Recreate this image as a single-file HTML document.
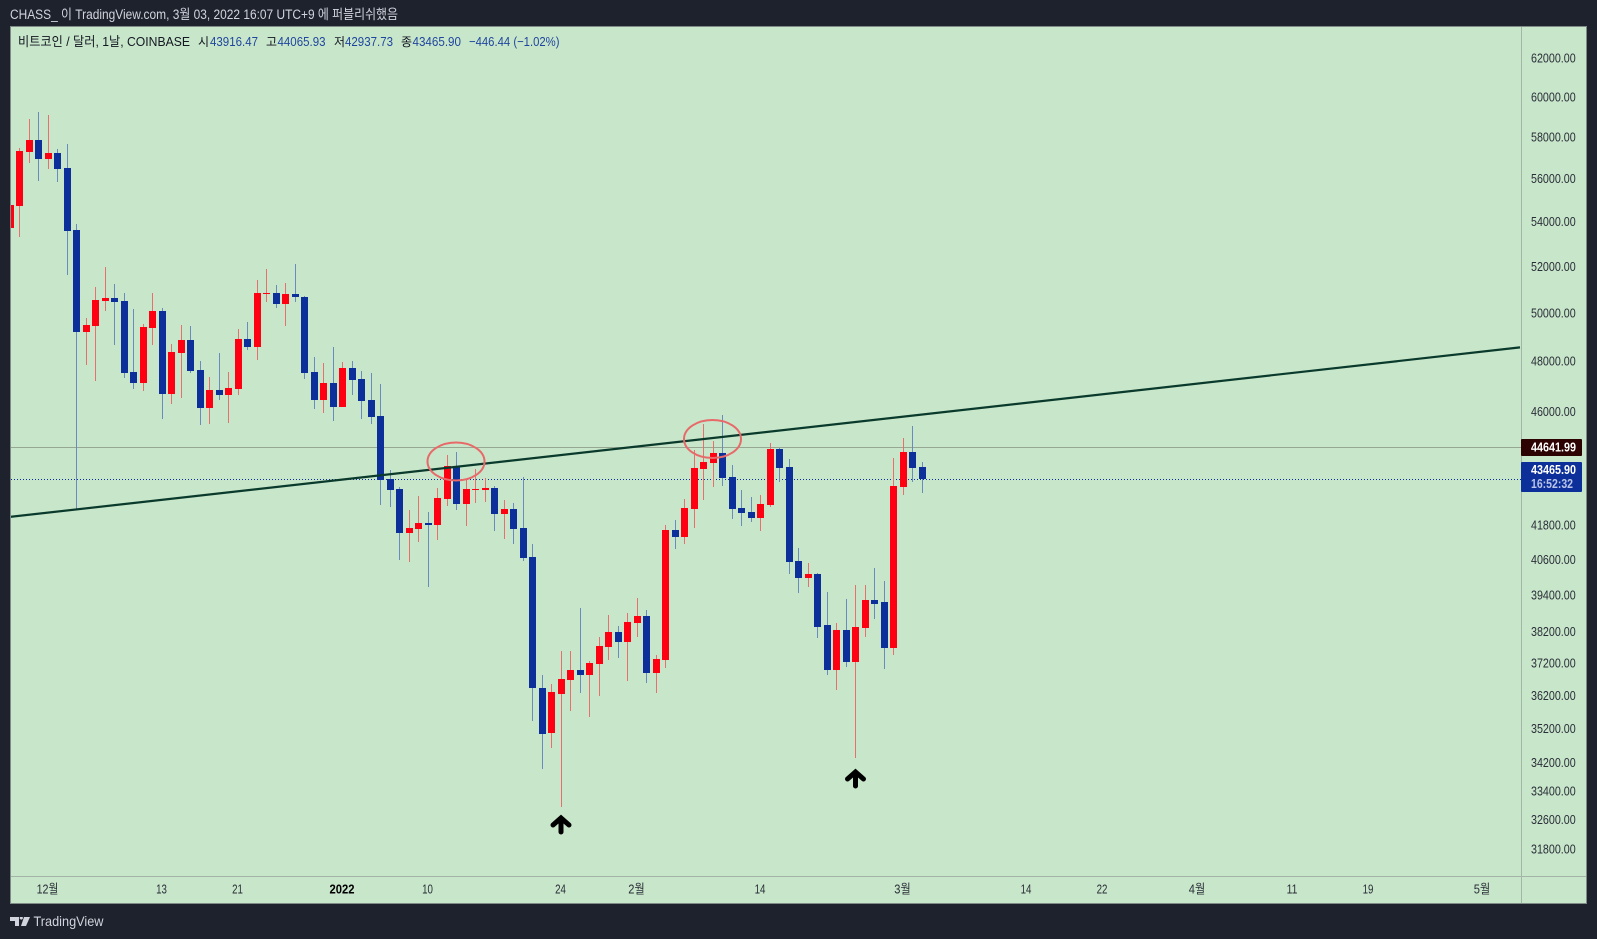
<!DOCTYPE html>
<html lang="ko">
<head>
<meta charset="utf-8">
<title>BTC/USD TradingView chart</title>
<style>
html,body{margin:0;padding:0;background:#1e222d;width:1597px;height:939px;overflow:hidden}
svg{display:block;font-family:"Liberation Sans","Noto Sans CJK KR",sans-serif}
</style>
</head>
<body>
<svg id="chart" xmlns="http://www.w3.org/2000/svg" width="1597" height="939" viewBox="0 0 1597 939">
  <defs>
    <clipPath id="plot-clip"><rect x="11" y="27" width="1510" height="849"/></clipPath>
  </defs>
  <rect x="0" y="0" width="1597" height="939" fill="#1e222d"/>
  <text x="10" y="19" font-size="13.5" fill="#d1d4dc" textLength="388" lengthAdjust="spacingAndGlyphs">CHASS_ 이 TradingView.com, 3월 03, 2022 16:07 UTC+9 에 퍼블리쉬했음</text>

  <rect x="10.5" y="26.5" width="1576" height="877" fill="#c8e6c9" stroke="#7f8b87" stroke-width="1"/>
  <line x1="1521.5" y1="27" x2="1521.5" y2="903" stroke="#a3b5a6" stroke-width="1"/>
  <line x1="11" y1="876.5" x2="1586" y2="876.5" stroke="#a3b5a6" stroke-width="1"/>

  <g id="price-axis"></g>
  <g id="time-axis"></g>

  <g clip-path="url(#plot-clip)">
    <line id="prev-line" stroke="#97a892" stroke-width="1"/>
    <line id="last-line" stroke="#0d2f9a" stroke-width="1" stroke-dasharray="1 2"/>
    <g id="candles" shape-rendering="crispEdges"></g>
    <line id="trend-line" stroke="#0a3a2c" stroke-width="2.2"/>
    <g id="annotations"></g>
  </g>

  <g font-size="13">
    <text x="18" y="46" fill="#131722" textLength="172" lengthAdjust="spacingAndGlyphs">비트코인 / 달러, 1날, COINBASE</text>
    <text x="198" y="46" fill="#131722" font-size="12">시</text>
    <text x="210" y="46" fill="#1f459f" textLength="48" lengthAdjust="spacingAndGlyphs">43916.47</text>
    <text x="266" y="46" fill="#131722" font-size="12">고</text>
    <text x="277.5" y="46" fill="#1f459f" textLength="48" lengthAdjust="spacingAndGlyphs">44065.93</text>
    <text x="334" y="46" fill="#131722" font-size="12">저</text>
    <text x="345" y="46" fill="#1f459f" textLength="48" lengthAdjust="spacingAndGlyphs">42937.73</text>
    <text x="401" y="46" fill="#131722" font-size="12">종</text>
    <text x="412.5" y="46" fill="#1f459f" textLength="48.5" lengthAdjust="spacingAndGlyphs">43465.90</text>
    <text x="469" y="46" fill="#1f459f" textLength="90.5" lengthAdjust="spacingAndGlyphs">−446.44 (−1.02%)</text>
  </g>

  <g>
    <rect id="prev-box" x="1521" width="61" height="17" rx="1" fill="#2c0202"/>
    <text id="prev-text" x="1531" font-size="12.5" font-weight="bold" fill="#ffffff" textLength="45" lengthAdjust="spacingAndGlyphs"></text>
    <rect id="last-box" x="1521" width="61" height="30" rx="1" fill="#0d2f9a"/>
    <text id="last-text" x="1531" font-size="12.5" font-weight="bold" fill="#ffffff" textLength="45" lengthAdjust="spacingAndGlyphs"></text>
    <text id="count-text" x="1531" font-size="12.5" font-weight="bold" fill="#b9c4e6" textLength="42" lengthAdjust="spacingAndGlyphs">16:52:32</text>
  </g>

  <g fill="#d1d4dc">
    <path d="M10 917h9v9h-4v-5h-5zM20 917h2.6a1.6 1.6 0 1 1 -2.6 0zM24 917h6l-4 9h-5z"/>
    <text x="33.5" y="926" font-size="14" textLength="70" lengthAdjust="spacingAndGlyphs">TradingView</text>
  </g>

<script>
const opens = [
53710,54720,57270,57850,56930,57220,56500,53620,49200,49450,
50500,50630,50500,47560,47120,49360,50080,46690,48330,48870,
47640,46140,46850,46650,46890,48910,48580,50800,50840,50370,
50800,50670,47560,46450,47120,46180,47720,47280,46450,45830,
43460,43090,41520,41660,41870,41800,42730,43940,42550,43055,
43060,43130,42190,42370,41700,40690,36430,35070,36250,36680,
36990,36830,37180,37710,38190,37870,38480,38710,36890,37300,
41630,41380,42370,43820,44050,44420,43530,42410,42260,42050,
42510,44570,43900,40550,39970,40110,38420,36990,38260,37240,
38320,39240,39170,37680,43170,44460,43916.47];
const highs = [
55320,57460,58890,59240,59090,57420,57660,53890,49780,51100,
51970,51230,50840,50160,49530,50840,50200,48700,49490,49450,
48010,47360,48330,47560,49320,49610,51400,51880,51190,51280,
52100,50720,48170,47930,48580,47970,48010,47600,47520,47080,
43790,43160,42330,42840,42260,43130,44350,44460,43460,43820,
43490,43200,42690,42590,43530,41140,36830,36550,37580,37580,
38970,37270,38030,38740,38390,38810,39300,38910,37460,41800,
41980,42730,44530,45520,44870,45870,43970,43060,42800,42870,
44800,44610,44200,41000,40480,40140,39500,38480,39270,39740,
39740,40310,39870,44230,44990,45450,44065.93];
const lows = [
53300,53300,56740,55890,56450,55840,51620,42370,47850,47200,
50080,48660,47320,46890,46810,48660,45720,46300,46530,47520,
45480,45520,46450,45560,46650,48460,48050,50460,50200,49450,
50460,47280,46100,45950,45640,46180,46650,45720,45520,42510,
42440,40580,40520,41210,39670,41280,42480,42330,41770,42590,
42620,41590,41310,41140,40550,35430,34020,34630,32950,35730,
36280,35550,36180,37300,37360,36640,38030,36580,36280,37050,
40960,41140,41700,42690,43160,43200,42010,41770,41910,41590,
42440,43350,40110,39470,39670,38000,36830,36370,37080,34340,
38030,38610,37020,37460,42870,43350,42937.73];
const closes = [
54770,57320,57850,56930,57220,56450,53580,49200,49490,50540,
50630,50460,47520,47120,49400,50080,46690,48370,48870,47600,
46140,46850,46650,46930,48910,48580,50840,50840,50370,50800,
50670,47520,46450,47120,46180,47720,47240,46410,45790,43420,
43060,41520,41700,41870,41800,42760,43940,42550,43090,43090,
43130,42190,42370,41660,40650,36430,35040,36310,36710,36990,
36830,37210,37740,38190,37870,38520,38710,36890,37330,41630,
41380,42410,43860,44080,44420,43490,42370,42230,42050,42550,
44570,43860,40520,39970,40110,38350,36990,38260,37240,38350,
39240,39110,37680,43200,44460,43860,43465.90];
const priceTicks = [62000,60000,58000,56000,54000,52000,50000,48000,46000,41800,40600,39400,38200,37200,36200,35200,34200,33400,32600,31800];
const timeTickBars = [4,16,24,35,44,58,66,79,94,107,115,125,135,143,155];
const timeTickLabels = ["12월","13","21","2022","10","24","2월","14","3월","14","22","4월","11","19","5월"];
const referencePrice = 44641.99;
const lastPrice = 43465.90;
const trendBars = [0,159];
const trendPrices = [42086,48562];
const ellipseBars = [47,74];
const ellipsePrices = [44103,44949];
const arrowBars = [58,89];
const arrowPrices = [32724,34021];

const NS = "http://www.w3.org/2000/svg";
const X0 = 9.5, BAR = 9.5, Y0 = 58, K = 1184.6, P0 = 62000;
function xRaw(i){ return X0 + BAR * i; }
function xPx(i){ return Math.round(xRaw(i)); }
function yRaw(p){ return Y0 + K * Math.log(P0 / p); }
function yPx(p){ return Math.round(yRaw(p)); }
function make(tag, attrs, parent){
  const el = document.createElementNS(NS, tag);
  for (const k in attrs) el.setAttribute(k, attrs[k]);
  parent.appendChild(el);
  return el;
}

const candles = document.getElementById("candles");
opens.forEach(function(o, i){
  const c = closes[i];
  const up = c >= o;
  const px = xPx(i);
  const g = make("g", {}, candles);
  
  
  const hy = yPx(highs[i]), ly = yPx(lows[i]);
  const wick = make("rect", {x: px, y: hy, width: 1, height: Math.max(1, ly - hy), fill: up ? "#e6706e" : "#6a8bbd"}, g);
  
  
  const top = yPx(Math.max(o, c)), bot = yPx(Math.min(o, c));
  const body = make("rect", {x: px - 3, y: top, width: 7, height: Math.max(1, bot - top), fill: up ? "#ff0013" : "#0c2f9a"}, g);
  
  
});

const priceAxis = document.getElementById("price-axis");
priceTicks.forEach(function(p){
  const t = make("text", {x: 1531, y: yRaw(p) + 4.5, "font-size": 12.5, fill: "#2a2e39", textLength: 44.7, lengthAdjust: "spacingAndGlyphs"}, priceAxis);
  
  
  t.textContent = p.toFixed(2);
});

const timeAxis = document.getElementById("time-axis");
timeTickLabels.forEach(function(label, i){
  const digits = label.replace(/\D/g, "").length;
  const hasMonth = label.indexOf("월") >= 0;
  const bold = label === "2022";
  const len = bold ? 25 : digits * 5.4 + (hasMonth ? 11 : 0);
  const t = make("text", {x: xRaw(timeTickBars[i]), y: 893.5, "font-size": 13, "text-anchor": "middle", fill: bold ? "#000000" : "#2a2e39", "font-weight": bold ? "bold" : "normal", textLength: len, lengthAdjust: "spacingAndGlyphs"}, timeAxis);
  
  
  t.textContent = label;
});

function hline(id, p){
  const el = document.getElementById(id);
  const y = yPx(p) + 0.5;
  el.setAttribute("x1", 11); el.setAttribute("x2", 1521);
  el.setAttribute("y1", y); el.setAttribute("y2", y);
}
hline("prev-line", referencePrice);
hline("last-line", lastPrice);

const prevY = yRaw(referencePrice), lastY = yRaw(lastPrice);
document.getElementById("prev-box").setAttribute("y", Math.round(prevY) - 8);
const prevText = document.getElementById("prev-text");
prevText.setAttribute("y", prevY + 4.5);
prevText.textContent = referencePrice.toFixed(2);
document.getElementById("last-box").setAttribute("y", Math.round(lastY) - 17);
const lastText = document.getElementById("last-text");
lastText.setAttribute("y", lastY - 4.5);
lastText.textContent = lastPrice.toFixed(2);
document.getElementById("count-text").setAttribute("y", lastY + 9.5);

const trend = document.getElementById("trend-line");
trend.setAttribute("x1", xRaw(trendBars[0]));
trend.setAttribute("y1", yRaw(trendPrices[0]));
trend.setAttribute("x2", xRaw(trendBars[1]));
trend.setAttribute("y2", yRaw(trendPrices[1]));

const annotations = document.getElementById("annotations");
ellipseBars.forEach(function(b, i){
  const e = make("ellipse", {cx: xRaw(b), cy: yRaw(ellipsePrices[i]), rx: 28.5, ry: 19, fill: "none", stroke: "#e8696a", "stroke-width": 2}, annotations);
  
  
});
arrowBars.forEach(function(b, i){
  const x = xRaw(b) + 0.5, y = yRaw(arrowPrices[i]);
  const a = make("path", {d: "M" + x + " " + (y + 3) + "V" + (y + 17) + "M" + (x - 8) + " " + (y + 10) + "L" + x + " " + (y + 3) + "L" + (x + 8) + " " + (y + 10), fill: "none", stroke: "#000000", "stroke-width": 5, "stroke-linecap": "round", "stroke-linejoin": "miter"}, annotations);
  
  
});
</script>
</svg>
</body>
</html>
